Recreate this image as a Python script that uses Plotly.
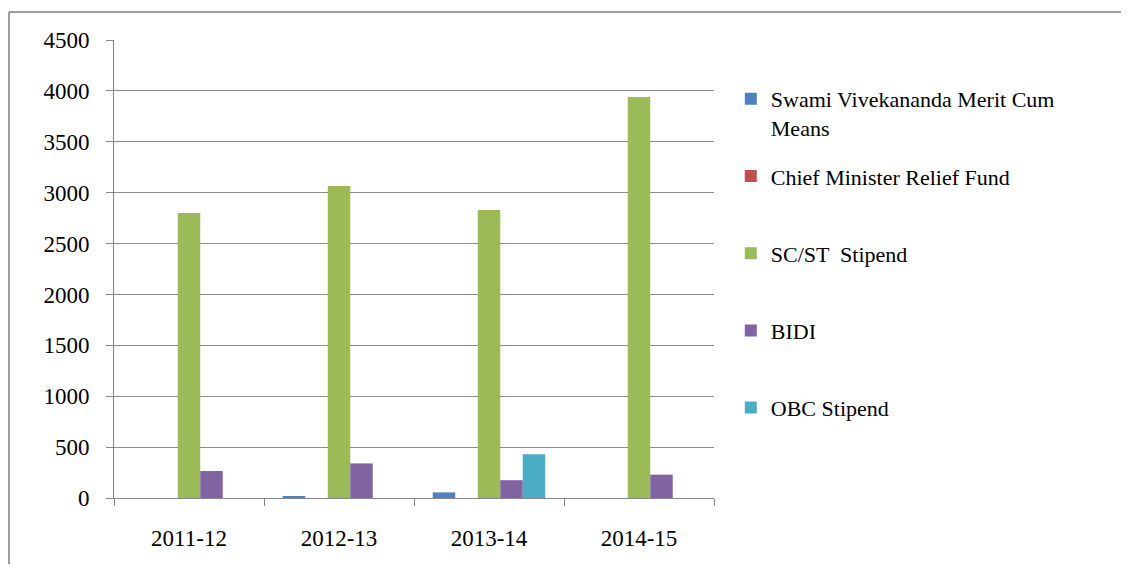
import plotly.graph_objects as go

years = ["2011-12", "2012-13", "2013-14", "2014-15"]
series_names = [
    "Swami Vivekananda Merit Cum<br>Means",
    "Chief Minister Relief Fund<br> ",
    "SC/ST  Stipend<br> ",
    "BIDI<br> ",
    "OBC Stipend<br> ",
]
swami = [0, 16, 55, 0]
chief = [0, 0, 0, 0]
scst = [2800, 3065, 2830, 3940]
bidi = [265, 340, 175, 229]
obc = [0, 0, 430, 0]
colors = ["#4F81BD", "#C0504D", "#9BBB59", "#8064A2", "#4BACC6"]
y_ticks = [0, 500, 1000, 1500, 2000, 2500, 3000, 3500, 4000, 4500]

FONT = "Liberation Serif, Times New Roman, serif"

W, H = 1113, 556
L, R, T, B = 106, 706, 32, 490  # plot area in figure pixels

fig = go.Figure()
for i, (name, vals) in enumerate(zip(series_names, [swami, chief, scst, bidi, obc])):
    fig.add_trace(go.Bar(x=years, y=vals, name=name, marker_color=colors[i],
                         marker_line_width=0, legendgroup=f"g{i}"))

fig.update_layout(
    width=W, height=H,
    margin=dict(l=L, r=W - R, t=T, b=H - B, autoexpand=False),
    paper_bgcolor="white", plot_bgcolor="white",
    barmode="group", bargap=0.25, bargroupgap=0,
    font=dict(family=FONT, size=23, color="#000000"),
    legend=dict(x=1.028, y=0.917, xanchor="left", yanchor="top",
                font=dict(family=FONT, size=22, color="#000000"),
                tracegroupgap=17, valign="top", itemwidth=30,
                bgcolor="rgba(0,0,0,0)"),
    showlegend=True,
    xaxis=dict(type="category", showline=True, linecolor="#868686", linewidth=1,
               ticks="outside", tickson="boundaries", ticklen=7, tickcolor="#868686",
               showgrid=False, ticklabelstandoff=19, fixedrange=True, automargin=False),
    yaxis=dict(range=[0, 4500], tickvals=y_ticks, showline=True, linecolor="#868686",
               linewidth=1, ticks="outside", ticklen=7, tickcolor="#868686",
               showgrid=True, gridcolor="#8c8c8c", gridwidth=1, zeroline=False,
               ticklabelstandoff=12, fixedrange=True, automargin=False),
)

pw, ph = R - L, B - T
# outer chart border (top and left edges visible in the reference)
fig.add_shape(type="line", xref="paper", yref="paper",
              x0=(1 - L) / pw, x1=(W - L) / pw,
              y0=(B - 4) / ph, y1=(B - 4) / ph,
              line=dict(color="#7f7f7f", width=1.5))
fig.add_shape(type="line", xref="paper", yref="paper",
              x0=(1 - L) / pw, x1=(1 - L) / pw,
              y0=(B - 4) / ph, y1=(B - H) / ph,
              line=dict(color="#7f7f7f", width=1.5))

fig.write_html("out.html")
